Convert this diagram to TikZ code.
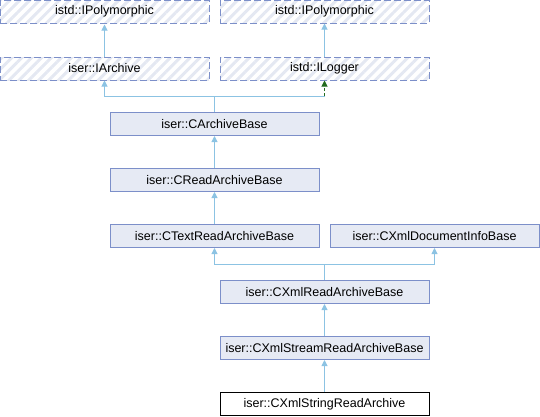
\documentclass[tikz,border=0pt]{standalone}
\usepackage{fontspec}
\setmainfont{Liberation Sans}
\usetikzlibrary{arrows.meta,patterns.meta}
\definecolor{boxfill}{HTML}{E6EAF4}
\definecolor{boxdraw}{HTML}{7C8FC9}
\definecolor{hatch}{HTML}{E4E8F2}
\definecolor{edgeblue}{HTML}{8CC3E3}
\definecolor{edgegreen}{HTML}{236B1E}
\tikzset{
  cls/.style={draw=boxdraw, fill=boxfill, line width=1pt, minimum width=209pt, minimum height=23pt, inner sep=0pt, font=\fontsize{12.5}{14}\selectfont},
  ext/.style={draw=boxdraw, line width=1pt, dash pattern=on 7pt off 3pt, minimum width=209pt, minimum height=23pt, inner sep=0pt, font=\fontsize{12.5}{14}\selectfont,
    pattern={Lines[angle=45,distance=7pt,line width=3pt]}, pattern color=hatch},
  cur/.style={draw=black, fill=white, line width=1pt, minimum width=209pt, minimum height=23pt, inner sep=0pt, font=\fontsize{12.5}{14}\selectfont},
  inh/.style={draw=edgeblue, line width=1pt, -{Triangle[length=6pt,width=6pt,fill=edgeblue]}},
  inhplain/.style={draw=edgeblue, line width=1pt},
  impl/.style={draw=edgegreen, line width=1pt, dash pattern=on 3pt off 2pt, -{Triangle[length=6pt,width=6pt,fill=edgegreen]}},
}
\begin{document}
\begin{tikzpicture}[x=1pt,y=-1pt]
\useasboundingbox (0,0) rectangle (540,416);
\node[ext] (p1) at (104.5,11.5) {istd::IPolymorphic};
\node[ext] (p2) at (324.5,11.5) {istd::IPolymorphic};
\node[ext] (ia) at (104.5,68.5) {iser::IArchive};
\node[ext] (il) at (324.5,68.5) {istd::ILogger};
\node[cls] (cab) at (214.5,124) {iser::CArchiveBase};
\node[cls] (crab) at (214.5,180) {iser::CReadArchiveBase};
\node[cls] (ctrab) at (214.5,236) {iser::CTextReadArchiveBase};
\node[cls] (cxdib) at (434.5,236) {iser::CXmlDocumentInfoBase};
\node[cls] (cxrab) at (324.5,292) {iser::CXmlReadArchiveBase};
\node[cls] (cxsrab) at (324.5,348) {iser::CXmlStreamReadArchiveBase};
\node[cur] (cxstr) at (324.5,404) {iser::CXmlStringReadArchive};
% edges
\draw[inh] (ia.north) -- (p1.south);
\draw[inh] (il.north) -- (p2.south);
\coordinate (j1) at (214.5,96);
\coordinate (j1r) at (324.5,96);
\draw[inh] (cab.north) -- (j1) -| (ia.south);
\draw[inhplain] (j1) -- (j1r);
\draw[impl] (j1r) -- (il.south);
\draw[inh] (crab.north) -- (cab.south);
\draw[inh] (ctrab.north) -- (crab.south);
\coordinate (j2) at (324.5,264);
\draw[inh] (cxrab.north) -- (j2) -| (ctrab.south);
\draw[inh] (j2) -| (cxdib.south);
\draw[inh] (cxsrab.north) -- (cxrab.south);
\draw[inh] (cxstr.north) -- (cxsrab.south);
\end{tikzpicture}
\end{document}
